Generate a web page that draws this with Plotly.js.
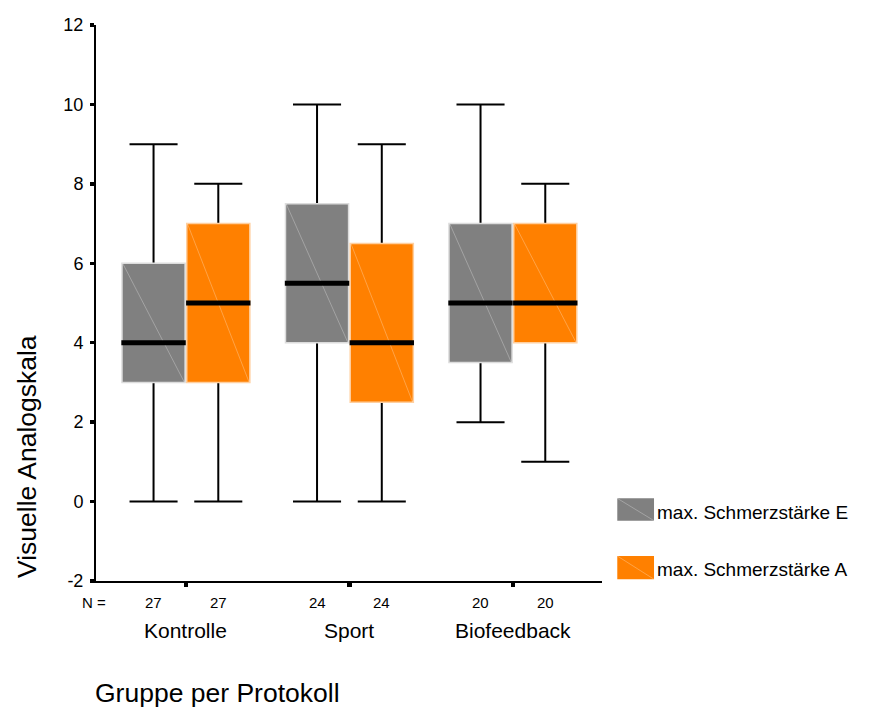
<!DOCTYPE html>
<html><head><meta charset="utf-8">
<script src="https://cdn.plot.ly/plotly-3.0.1.min.js"></script>
<style>html,body{margin:0;padding:0;background:#fff}#chart{width:873px;height:711px}</style>
</head><body><div id="chart"></div>
<script>
// ---- data ----
const groups = ['Kontrolle', 'Sport', 'Biofeedback'];
const seriesNames = ['max. Schmerzstärke E', 'max. Schmerzstärke A'];
const nE = [27, 24, 20];
const nA = [27, 24, 20];
const minE = [0, 0, 2];
const q1E  = [3, 4, 3.5];
const medE = [4, 5.5, 5];
const q3E  = [6, 7.5, 7];
const maxE = [9, 10, 10];
const minA = [0, 0, 1];
const q1A  = [3, 2.5, 4];
const medA = [5, 4, 5];
const q3A  = [7, 6.5, 7];
const maxA = [8, 9, 8];
const yTicks = [-2, 0, 2, 4, 6, 8, 10, 12];

// ---- styling ----
const FONT = '"Liberation Sans", Arial, Helvetica, sans-serif';
const OFF = 0.198, BOXW = 0.386, CAPW = 0.294;
const colE = '#808080', colA = '#ff8000';
const edgeE = '#dcdcdc', edgeA = '#ffcf9f';
const idx = groups.map((g, i) => i);
const xE = idx.map(i => i - OFF);
const xA = idx.map(i => i + OFF);

function whisker(x, lo, med, hi) {
  return {type: 'box', orientation: 'v', x: x, q1: med, median: med, q3: med,
    lowerfence: lo, upperfence: hi, width: CAPW, whiskerwidth: 1,
    line: {color: '#000', width: 2}, fillcolor: 'rgba(0,0,0,0)',
    boxpoints: false, hoverinfo: 'skip', showlegend: false};
}
function box(x, q1, med, q3, fill, edge) {
  return {type: 'box', orientation: 'v', x: x, q1: q1, median: med, q3: q3,
    lowerfence: q1, upperfence: q3, width: BOXW, whiskerwidth: 0,
    line: {color: edge, width: 1.5}, fillcolor: fill,
    boxpoints: false, hoverinfo: 'skip', showlegend: false};
}
function diagonals(x, q1, q3, color) {
  const xs = [], ys = [];
  x.forEach((p, i) => { xs.push(p - BOXW / 2 + 0.004, p + BOXW / 2 - 0.004, null); ys.push(q3[i], q1[i], null); });
  return {type: 'scatter', mode: 'lines', x: xs, y: ys, line: {color: color, width: 0.8},
    hoverinfo: 'skip', showlegend: false};
}
function medians(x, med) {
  const xs = [], ys = [];
  x.forEach((p, i) => { xs.push(p - BOXW / 2 - 0.004, p + BOXW / 2 + 0.004, null); ys.push(med[i], med[i], null); });
  return {type: 'scatter', mode: 'lines', x: xs, y: ys, line: {color: '#000', width: 5},
    hoverinfo: 'skip', showlegend: false, cliponaxis: false};
}

const data = [
  whisker(xE, minE, medE, maxE),
  whisker(xA, minA, medA, maxA),
  box(xE, q1E, medE, q3E, colE, edgeE),
  box(xA, q1A, medA, q3A, colA, edgeA),
  diagonals(xE, q1E, q3E, 'rgba(255,255,255,0.35)'),
  diagonals(xA, q1A, q3A, 'rgba(255,255,255,0.35)'),
  medians(xE, medE),
  medians(xA, medA)
];

const annotations = [];
// N row
annotations.push({text: 'N =', xref: 'paper', yref: 'paper', x: -0.003, y: -0.0383,
  xanchor: 'center', yanchor: 'middle', showarrow: false, font: {family: FONT, size: 15, color: '#000'}});
idx.forEach(i => {
  annotations.push({text: String(nE[i]), xref: 'x', yref: 'paper', x: xE[i], y: -0.0383,
    xanchor: 'center', yanchor: 'middle', showarrow: false, font: {family: FONT, size: 15, color: '#000'}});
  annotations.push({text: String(nA[i]), xref: 'x', yref: 'paper', x: xA[i], y: -0.0383,
    xanchor: 'center', yanchor: 'middle', showarrow: false, font: {family: FONT, size: 15, color: '#000'}});
  annotations.push({text: groups[i], xref: 'x', yref: 'paper', x: i, y: -0.0899,
    xanchor: 'center', yanchor: 'middle', showarrow: false, font: {family: FONT, size: 21, color: '#000'}});
});
// axis titles
annotations.push({text: 'Gruppe per Protokoll', xref: 'paper', yref: 'paper', x: 0.2401, y: -0.2014,
  xanchor: 'center', yanchor: 'middle', showarrow: false, font: {family: FONT, size: 26.5, color: '#000'}});
annotations.push({text: 'Visuelle Analogskala', xref: 'paper', yref: 'paper', x: -0.1364, y: 0.2248,
  xanchor: 'center', yanchor: 'middle', textangle: -90, showarrow: false, font: {family: FONT, size: 26.5, color: '#000'}});
// legend text
annotations.push({text: seriesNames[0], xref: 'paper', yref: 'paper', x: 1.105, y: 0.1234,
  xanchor: 'left', yanchor: 'middle', showarrow: false, font: {family: FONT, size: 19, color: '#000'}});
annotations.push({text: seriesNames[1], xref: 'paper', yref: 'paper', x: 1.105, y: 0.0198,
  xanchor: 'left', yanchor: 'middle', showarrow: false, font: {family: FONT, size: 19, color: '#000'}});

const shapes = [
  {type: 'rect', xref: 'paper', yref: 'paper', x0: 1.0302, x1: 1.1028, y0: 0.1085, y1: 0.1487,
    fillcolor: colE, line: {width: 0}},
  {type: 'line', xref: 'paper', yref: 'paper', x0: 1.0302, x1: 1.1028, y0: 0.1487, y1: 0.1085,
    line: {color: 'rgba(255,255,255,0.35)', width: 0.8}},
  {type: 'rect', xref: 'paper', yref: 'paper', x0: 1.0302, x1: 1.1028, y0: 0.0031, y1: 0.045,
    fillcolor: colA, line: {width: 0}},
  {type: 'line', xref: 'paper', yref: 'paper', x0: 1.0302, x1: 1.1028, y0: 0.045, y1: 0.0031,
    line: {color: 'rgba(255,255,255,0.35)', width: 0.8}}
];

const layout = {
  width: 873, height: 711,
  margin: {l: 96, r: 271, t: 25, b: 130, pad: 0},
  paper_bgcolor: '#fff', plot_bgcolor: '#fff',
  showlegend: false, boxmode: 'overlay',
  font: {family: FONT, color: '#000'},
  xaxis: {range: [-0.55, 2.545], tickvals: idx, showticklabels: false,
    ticks: 'outside', ticklen: 4, tickwidth: 4.5, tickcolor: '#000',
    showline: true, linecolor: '#000', linewidth: 2, showgrid: false, zeroline: false, fixedrange: true},
  yaxis: {range: [-2, 12], tickvals: yTicks, ticktext: yTicks.map(String),
    ticks: 'outside', ticklen: 4, tickwidth: 3.5, tickcolor: '#000', ticklabelstandoff: 3,
    showline: true, linecolor: '#000', linewidth: 2, showgrid: false, zeroline: false,
    tickfont: {family: FONT, size: 18, color: '#000'}, fixedrange: true},
  annotations: annotations,
  shapes: shapes
};

Plotly.newPlot('chart', data, layout, {displayModeBar: false, staticPlot: true});
</script>
</body></html>
